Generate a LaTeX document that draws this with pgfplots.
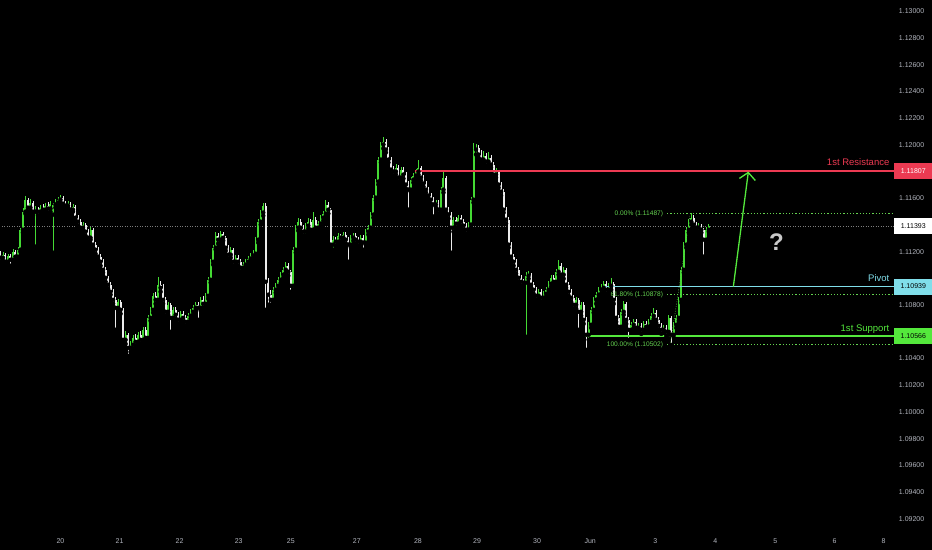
\documentclass[border=0pt]{standalone}
\usepackage{pgfplots}
\pgfplotsset{compat=1.18}
\usepackage{pgfplotstable}
\usepackage{fontspec}
\setmainfont{Liberation Sans}
\usetikzlibrary{arrows.meta}
\definecolor{upc}{RGB}{68,218,52}
\definecolor{dnc}{RGB}{236,236,236}
\definecolor{resc}{RGB}{236,58,82}
\definecolor{pivc}{RGB}{128,222,234}
\definecolor{supc}{RGB}{84,232,60}
\definecolor{fibc}{RGB}{100,210,80}
\definecolor{tickc}{RGB}{178,181,190}
\definecolor{qc}{RGB}{200,200,200}

\pgfplotstableread{
o h l c
1.11185 1.11208 1.11125 1.11155
1.11155 1.11200 1.11133 1.11178
1.11178 1.11193 1.11103 1.11125
1.11125 1.11185 1.11110 1.11170
1.11170 1.11185 1.11095 1.11140
1.11140 1.11223 1.11125 1.11200
1.11200 1.11215 1.11140 1.11163
1.11163 1.11238 1.11148 1.11215
1.11215 1.11380 1.11200 1.11365
1.11365 1.11530 1.11343 1.11500
1.11500 1.11620 1.11485 1.11590
1.11590 1.11605 1.11500 1.11530
1.11530 1.11598 1.11508 1.11568
1.11568 1.11583 1.11478 1.11500
1.11500 1.11545 1.11238 1.11515
1.11515 1.11538 1.11470 1.11500
1.11500 1.11553 1.11478 1.11530
1.11530 1.11560 1.11493 1.11515
1.11515 1.11568 1.11500 1.11545
1.11545 1.11575 1.11493 1.11523
1.11523 1.11583 1.11500 1.11560
1.11478 1.11568 1.11193 1.11553
1.11553 1.11598 1.11530 1.11568
1.11568 1.11613 1.11545 1.11590
1.11590 1.11628 1.11568 1.11605
1.11605 1.11620 1.11538 1.11560
1.11560 1.11583 1.11523 1.11545
1.11545 1.11583 1.11530 1.11560
1.11560 1.11575 1.11493 1.11515
1.11515 1.11560 1.11500 1.11538
1.11538 1.11553 1.11433 1.11455
1.11455 1.11478 1.11395 1.11425
1.11425 1.11448 1.11358 1.11380
1.11380 1.11425 1.11365 1.11403
1.11403 1.11418 1.11320 1.11350
1.11350 1.11373 1.11275 1.11305
1.11305 1.11388 1.11290 1.11365
1.11365 1.11380 1.11230 1.11253
1.11253 1.11275 1.11185 1.11215
1.11215 1.11238 1.11140 1.11163
1.11163 1.11185 1.11095 1.11125
1.11125 1.11148 1.11043 1.11065
1.11065 1.11088 1.10975 1.11005
1.11005 1.11020 1.10923 1.10953
1.10953 1.10975 1.10878 1.10900
1.10900 1.10923 1.10810 1.10840
1.10840 1.10863 1.10615 1.10780
1.10780 1.10848 1.10758 1.10825
1.10825 1.10840 1.10735 1.10765
1.10765 1.10780 1.10518 1.10540
1.10540 1.10608 1.10510 1.10578
1.10578 1.10593 1.10420 1.10480
1.10480 1.10533 1.10450 1.10503
1.10503 1.10578 1.10473 1.10555
1.10555 1.10585 1.10495 1.10525
1.10525 1.10600 1.10503 1.10578
1.10578 1.10608 1.10510 1.10540
1.10540 1.10638 1.10518 1.10615
1.10615 1.10638 1.10525 1.10555
1.10555 1.10728 1.10540 1.10705
1.10705 1.10788 1.10683 1.10765
1.10765 1.10893 1.10743 1.10870
1.10870 1.10900 1.10810 1.10840
1.10840 1.11013 1.10825 1.10953
1.10953 1.10983 1.10900 1.10930
1.10930 1.10960 1.10810 1.10840
1.10840 1.10863 1.10720 1.10750
1.10750 1.10825 1.10728 1.10803
1.10803 1.10818 1.10600 1.10705
1.10705 1.10788 1.10683 1.10765
1.10765 1.10788 1.10698 1.10728
1.10728 1.10750 1.10660 1.10690
1.10690 1.10758 1.10668 1.10735
1.10735 1.10758 1.10675 1.10705
1.10705 1.10728 1.10645 1.10675
1.10675 1.10743 1.10653 1.10720
1.10720 1.10773 1.10698 1.10750
1.10750 1.10803 1.10728 1.10780
1.10780 1.10825 1.10758 1.10803
1.10803 1.10825 1.10690 1.10780
1.10780 1.10863 1.10758 1.10840
1.10840 1.10870 1.10780 1.10810
1.10810 1.10893 1.10788 1.10870
1.10870 1.11013 1.10848 1.10990
1.10990 1.11148 1.10968 1.11125
1.11125 1.11253 1.11103 1.11230
1.11230 1.11350 1.11215 1.11320
1.11320 1.11343 1.11260 1.11290
1.11290 1.11358 1.11268 1.11335
1.11335 1.11350 1.11283 1.11305
1.11305 1.11320 1.11208 1.11230
1.11230 1.11253 1.11148 1.11178
1.11178 1.11238 1.11155 1.11215
1.11215 1.11230 1.11095 1.11125
1.11125 1.11178 1.11103 1.11155
1.11155 1.11178 1.11095 1.11125
1.11125 1.11148 1.11050 1.11080
1.11080 1.11125 1.11058 1.11103
1.11103 1.11148 1.11080 1.11125
1.11125 1.11170 1.11103 1.11148
1.11148 1.11193 1.11125 1.11170
1.11170 1.11215 1.11148 1.11185
1.11185 1.11313 1.11163 1.11290
1.11290 1.11448 1.11268 1.11425
1.11425 1.11515 1.11403 1.11493
1.11493 1.11568 1.11470 1.11545
1.11545 1.11568 1.10765 1.10975
1.10975 1.11005 1.10803 1.10878
1.10878 1.10915 1.10803 1.10840
1.10840 1.10938 1.10818 1.10915
1.10915 1.10968 1.10893 1.10945
1.10945 1.11013 1.10923 1.10990
1.10990 1.11050 1.10968 1.11028
1.11028 1.11088 1.11005 1.11065
1.11065 1.11125 1.11043 1.11095
1.11095 1.11118 1.11020 1.11050
1.11050 1.11065 1.10900 1.10945
1.10945 1.11238 1.10915 1.11215
1.11215 1.11403 1.11193 1.11380
1.11380 1.11455 1.11358 1.11425
1.11425 1.11448 1.11350 1.11380
1.11380 1.11403 1.11320 1.11350
1.11350 1.11418 1.11320 1.11395
1.11395 1.11455 1.11373 1.11425
1.11425 1.11448 1.11343 1.11365
1.11365 1.11500 1.11343 1.11440
1.11440 1.11463 1.11358 1.11380
1.11380 1.11433 1.11358 1.11410
1.11410 1.11478 1.11388 1.11455
1.11455 1.11508 1.11433 1.11485
1.11485 1.11590 1.11463 1.11553
1.11553 1.11575 1.11485 1.11515
1.11515 1.11530 1.11230 1.11253
1.11253 1.11320 1.11215 1.11290
1.11290 1.11313 1.11245 1.11275
1.11275 1.11343 1.11253 1.11320
1.11320 1.11335 1.11275 1.11305
1.11305 1.11350 1.11283 1.11328
1.11328 1.11350 1.11260 1.11290
1.11290 1.11313 1.11125 1.11253
1.11253 1.11328 1.11230 1.11305
1.11305 1.11343 1.11283 1.11320
1.11320 1.11343 1.11260 1.11290
1.11290 1.11313 1.11245 1.11275
1.11275 1.11328 1.11253 1.11305
1.11305 1.11328 1.11215 1.11268
1.11268 1.11373 1.11245 1.11350
1.11350 1.11403 1.11328 1.11380
1.11380 1.11500 1.11358 1.11478
1.11478 1.11628 1.11455 1.11605
1.11605 1.11748 1.11583 1.11725
1.11725 1.11913 1.11703 1.11890
1.11890 1.12025 1.11868 1.12003
1.12003 1.12063 1.11973 1.12025
1.12025 1.12048 1.11943 1.11965
1.11965 1.11988 1.11868 1.11890
1.11890 1.11913 1.11785 1.11815
1.11815 1.11845 1.11770 1.11800
1.11800 1.11860 1.11778 1.11830
1.11830 1.11853 1.11725 1.11755
1.11755 1.11838 1.11733 1.11815
1.11815 1.11838 1.11748 1.11778
1.11778 1.11800 1.11673 1.11703
1.11703 1.11733 1.11515 1.11665
1.11665 1.11763 1.11643 1.11740
1.11740 1.11793 1.11718 1.11770
1.11770 1.11823 1.11748 1.11800
1.11800 1.11890 1.11778 1.11830
1.11830 1.11845 1.11733 1.11755
1.11755 1.11778 1.11688 1.11710
1.11710 1.11733 1.11643 1.11665
1.11665 1.11688 1.11598 1.11620
1.11620 1.11643 1.11560 1.11590
1.11590 1.11613 1.11463 1.11553
1.11553 1.11590 1.11530 1.11568
1.11568 1.11590 1.11485 1.11515
1.11515 1.11688 1.11493 1.11665
1.11665 1.11800 1.11643 1.11755
1.11755 1.11770 1.11493 1.11515
1.11515 1.11538 1.11448 1.11478
1.11478 1.11500 1.11193 1.11380
1.11380 1.11463 1.11350 1.11440
1.11440 1.11463 1.11380 1.11410
1.11410 1.11478 1.11388 1.11455
1.11455 1.11478 1.11395 1.11425
1.11425 1.11448 1.11365 1.11395
1.11395 1.11418 1.11335 1.11365
1.11365 1.11425 1.11343 1.11403
1.11403 1.11613 1.11380 1.11590
1.11590 1.12018 1.11568 1.11965
1.11965 1.12010 1.11928 1.11980
1.11980 1.12003 1.11905 1.11928
1.11928 1.11965 1.11868 1.11890
1.11890 1.11958 1.11868 1.11920
1.11920 1.11943 1.11845 1.11875
1.11875 1.11950 1.11853 1.11905
1.11905 1.11928 1.11830 1.11853
1.11853 1.11875 1.11755 1.11778
1.11778 1.11830 1.11755 1.11800
1.11800 1.11815 1.11680 1.11703
1.11703 1.11725 1.11620 1.11650
1.11650 1.11673 1.11493 1.11515
1.11515 1.11538 1.11410 1.11440
1.11440 1.11463 1.11230 1.11253
1.11253 1.11275 1.11140 1.11163
1.11163 1.11185 1.11095 1.11125
1.11125 1.11148 1.11035 1.11065
1.11065 1.11088 1.10975 1.11005
1.11005 1.11028 1.10945 1.10975
1.10975 1.10998 1.10945 1.10968
1.10968 1.11050 1.10563 1.11020
1.11020 1.11058 1.10998 1.11028
1.11028 1.11043 1.10930 1.10953
1.10953 1.10975 1.10885 1.10915
1.10915 1.10938 1.10840 1.10870
1.10870 1.10923 1.10848 1.10900
1.10900 1.10923 1.10825 1.10855
1.10855 1.10908 1.10833 1.10885
1.10885 1.10938 1.10863 1.10915
1.10915 1.10983 1.10893 1.10960
1.10960 1.11028 1.10938 1.11005
1.11005 1.11028 1.10953 1.10975
1.10975 1.11073 1.10953 1.11050
1.11050 1.11140 1.11028 1.11095
1.11095 1.11118 1.11005 1.11028
1.11028 1.11088 1.10998 1.11065
1.11065 1.11080 1.10930 1.10953
1.10953 1.10975 1.10870 1.10900
1.10900 1.10923 1.10825 1.10855
1.10855 1.10878 1.10773 1.10803
1.10803 1.10863 1.10773 1.10840
1.10840 1.10855 1.10615 1.10750
1.10750 1.10825 1.10720 1.10803
1.10803 1.10825 1.10660 1.10690
1.10690 1.10713 1.10465 1.10578
1.10578 1.10675 1.10540 1.10653
1.10653 1.10788 1.10630 1.10765
1.10765 1.10863 1.10743 1.10840
1.10840 1.10900 1.10810 1.10878
1.10878 1.10938 1.10855 1.10915
1.10915 1.10960 1.10885 1.10930
1.10930 1.10983 1.10900 1.10960
1.10960 1.10983 1.10885 1.10915
1.10915 1.10968 1.10893 1.10945
1.10945 1.11005 1.10915 1.10960
1.10960 1.10975 1.10810 1.10840
1.10840 1.10863 1.10675 1.10705
1.10705 1.10728 1.10608 1.10638
1.10638 1.10773 1.10615 1.10750
1.10750 1.10833 1.10728 1.10810
1.10810 1.10825 1.10660 1.10690
1.10690 1.10713 1.10540 1.10615
1.10615 1.10675 1.10593 1.10653
1.10653 1.10698 1.10630 1.10675
1.10675 1.10698 1.10608 1.10630
1.10630 1.10668 1.10608 1.10645
1.10645 1.10668 1.10585 1.10615
1.10615 1.10683 1.10593 1.10660
1.10660 1.10683 1.10608 1.10638
1.10638 1.10698 1.10615 1.10675
1.10675 1.10743 1.10653 1.10720
1.10720 1.10780 1.10698 1.10743
1.10743 1.10765 1.10668 1.10690
1.10690 1.10713 1.10615 1.10645
1.10645 1.10668 1.10585 1.10615
1.10615 1.10653 1.10593 1.10630
1.10630 1.10653 1.10570 1.10600
1.10600 1.10728 1.10578 1.10705
1.10705 1.10720 1.10502 1.10578
1.10578 1.10675 1.10555 1.10653
1.10653 1.10728 1.10630 1.10705
1.10705 1.10863 1.10683 1.10840
1.10840 1.11088 1.10818 1.11065
1.11065 1.11275 1.11043 1.11253
1.11253 1.11388 1.11230 1.11365
1.11365 1.11448 1.11343 1.11425
1.11425 1.11487 1.11403 1.11455
1.11455 1.11478 1.11380 1.11403
1.11403 1.11425 1.11358 1.11380
1.11380 1.11418 1.11350 1.11395
1.11395 1.11410 1.11343 1.11365
1.11365 1.11380 1.11163 1.11290
1.11290 1.11388 1.11268 1.11365
1.11365 1.11410 1.11350 1.11393
}\candles

\begin{document}
\begin{tikzpicture}
\begin{axis}[
  width=932pt, height=550pt, scale only axis,
  xmin=0, xmax=932, ymin=1.08965, ymax=1.13090,
  clip=false,
  axis background/.style={fill=black},
  axis line style={draw=none},
  tick style={draw=none},
  major tick length=0pt,
  /pgf/number format/assume math mode=true,
  xtick={61,120,180,239,291,357,418,477,537,590,655,715,775,834,883},
  xticklabels={20,21,22,23,25,27,28,29,30,Jun,3,4,5,6,8},
  xticklabel style={anchor=center, yshift=9pt, text=tickc, font=\fontsize{7}{8}\selectfont},
  ytick={1.092,1.094,1.096,1.098,1.100,1.102,1.104,1.108,1.112,1.116,1.120,1.122,1.124,1.126,1.128,1.130},
  yticklabels={1.09200,1.09400,1.09600,1.09800,1.10000,1.10200,1.10400,1.10800,1.11200,1.11600,1.12000,1.12200,1.12400,1.12600,1.12800,1.13000},
  yticklabel pos=right,
  yticklabel style={anchor=center, xshift=-21pt, text=tickc, font=\fontsize{7}{8}\selectfont},
]
% current price line (behind candles)
\draw[color={rgb,255:red,125;green,125;blue,125}, line width=0.5pt, dash pattern=on 1pt off 1.5pt] (0,1.11393) -- (893,1.11393);

% wicks
\addplot[only marks, mark=none, forget plot,
  error bars/.cd, y dir=plus, y explicit, error mark=none,
  error bar style={line width=0.8pt, color=upc}]
  table[x expr=\coordindex*2.5+1,
        y expr={\thisrow{c}>\thisrow{o} ? \thisrow{l} : nan},
        y error plus expr={\thisrow{h}-\thisrow{l}}]{\candles};
\addplot[only marks, mark=none, forget plot,
  error bars/.cd, y dir=plus, y explicit, error mark=none,
  error bar style={line width=0.8pt, color=dnc}]
  table[x expr=\coordindex*2.5+1,
        y expr={\thisrow{c}>\thisrow{o} ? nan : \thisrow{l}},
        y error plus expr={\thisrow{h}-\thisrow{l}}]{\candles};
% bodies
\addplot[only marks, mark=none, forget plot,
  error bars/.cd, y dir=plus, y explicit, error mark=none,
  error bar style={line width=2pt, color=upc}]
  table[x expr=\coordindex*2.5+1,
        y expr={\thisrow{c}>\thisrow{o} ? \thisrow{o} : nan},
        y error plus expr={\thisrow{c}-\thisrow{o}}]{\candles};
\addplot[only marks, mark=none, forget plot,
  error bars/.cd, y dir=plus, y explicit, error mark=none,
  error bar style={line width=2pt, color=dnc}]
  table[x expr=\coordindex*2.5+1,
        y expr={\thisrow{c}<\thisrow{o} ? \thisrow{c} : nan},
        y error plus expr={\thisrow{o}-\thisrow{c}}]{\candles};

% fib levels
\draw[fibc, line width=0.5pt, dash pattern=on 0.8pt off 1.6pt] (670,1.10502) -- (690,1.11487);
\draw[fibc, line width=0.9pt, dash pattern=on 1.2pt off 2pt] (667,1.11487) -- (893,1.11487);
\draw[fibc, line width=0.9pt, dash pattern=on 1.2pt off 2pt] (667,1.10878) -- (893,1.10878);
\draw[fibc, line width=0.9pt, dash pattern=on 1.2pt off 2pt] (667,1.10502) -- (893,1.10502);
\node[anchor=east, text=fibc, font=\fontsize{6.6}{7}\selectfont, inner sep=0pt] at (663,1.11487) {0.00\% (1.11487)};
\node[anchor=east, text=fibc, font=\fontsize{6.6}{7}\selectfont, inner sep=0pt] at (663,1.10878) {61.80\% (1.10878)};
\node[anchor=east, text=fibc, font=\fontsize{6.6}{7}\selectfont, inner sep=0pt] at (663,1.10502) {100.00\% (1.10502)};

% levels
\draw[resc, line width=1.8pt] (415,1.11807) -- (893,1.11807);
\draw[pivc, line width=1.8pt] (603,1.10939) -- (893,1.10939);
\draw[supc, line width=1.8pt] (585,1.10566) -- (893,1.10566);
\node[anchor=base east, text=resc, font=\fontsize{9.5}{11}\selectfont, inner sep=0pt] at (889,1.11845) {1st Resistance};
\node[anchor=base east, text=pivc, font=\fontsize{9.5}{11}\selectfont, inner sep=0pt] at (889,1.10975) {Pivot};
\node[anchor=base east, text=supc, font=\fontsize{9.5}{11}\selectfont, inner sep=0pt] at (889,1.10605) {1st Support};

% price boxes
\node[anchor=west, fill=resc, text=white, minimum width=39pt, minimum height=16pt, inner sep=0pt, font=\fontsize{7}{8}\selectfont] at (893,1.11807) {1.11807};
\node[anchor=west, fill=white, text=black, minimum width=39pt, minimum height=16pt, inner sep=0pt, font=\fontsize{7}{8}\selectfont] at (893,1.11393) {1.11393};
\node[anchor=west, fill=pivc, text=black, minimum width=39pt, minimum height=16pt, inner sep=0pt, font=\fontsize{7}{8}\selectfont] at (893,1.10939) {1.10939};
\node[anchor=west, fill=supc, text=black, minimum width=39pt, minimum height=16pt, inner sep=0pt, font=\fontsize{7}{8}\selectfont] at (893,1.10566) {1.10566};

% arrow and question mark
\draw[supc, line width=1.3pt, -{Straight Barb[length=7pt, width=16pt]}] (733,1.10939) -- (748,1.11800);
\node[text=qc, font=\fontsize{24}{26}\selectfont\bfseries] at (776,1.11275) {?};
\end{axis}
\pgfresetboundingbox
\path[use as bounding box] (0.6pt,0.6pt) rectangle (931.4pt,549.4pt);
\end{tikzpicture}
\end{document}
